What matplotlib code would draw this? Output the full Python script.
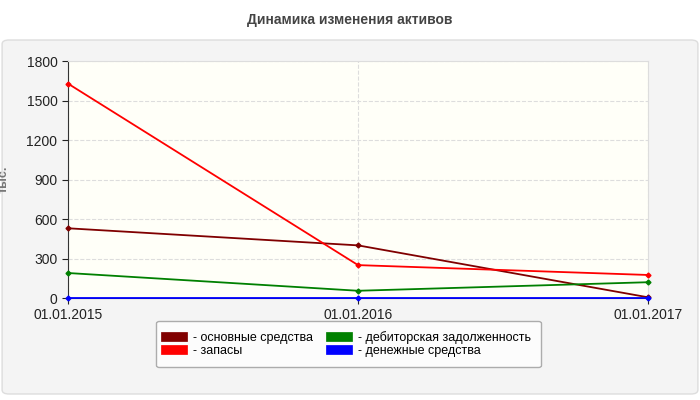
import matplotlib.pyplot as plt
from matplotlib.patches import FancyBboxPatch

plt.rcParams['font.family'] = ['Liberation Sans', 'DejaVu Sans']

dates = ['01.01.2015', '01.01.2016', '01.01.2017']
fixed_assets = [530, 400, 5]
stocks = [1630, 250, 175]
receivables = [190, 55, 120]
cash = [0, 0, 0]

names = ['- основные средства', '- запасы', '- дебиторская задолженность', '- денежные средства']
colors = ['#800000', '#ff0000', '#008000', '#0000ff']
series = [fixed_assets, stocks, receivables, cash]

fig = plt.figure(figsize=(7, 4), dpi=100)
fig.patch.set_facecolor('white')
# outer gray panel
panel = FancyBboxPatch((0.003, 0.015), 0.994, 0.885, boxstyle='round,pad=0,rounding_size=0.01',
                       transform=fig.transFigure, facecolor='#f4f4f4', edgecolor='#dddddd', lw=1, zorder=-10)
fig.patches.append(panel)
fig.text(0.5, 0.95, 'Динамика изменения активов', ha='center', va='center',
         fontsize=10, fontweight='bold', color='#444444')

ax = fig.add_axes([0.097, 0.255, 0.829, 0.592])
ax.set_zorder(1)
ax.set_facecolor('#fffff8')
x = range(len(dates))
for vals, c, n in zip(series, colors, names):
    ax.plot(x, vals, color=c, lw=1.3, marker='D', markersize=2.5, label=n, clip_on=False, zorder=3)

ax.set_xlim(0, 2)
ax.set_ylim(0, 1800)
ax.set_yticks(range(0, 1801, 300))
ax.set_xticks(list(x))
ax.set_xticklabels(dates)
ax.tick_params(labelsize=10, colors='#222222', length=4)
ax.grid(True, color='#dddddd', linestyle='--', lw=0.8)
ax.set_axisbelow(True)
for s in ['top', 'right']:
    ax.spines[s].set_color('#dddddd')
ax.spines['left'].set_color('#333333')
ax.spines['bottom'].set_color('#333333')
ax.set_ylabel('тыс.', color='#777777', fontsize=9, fontweight='bold', labelpad=12)

h, l = ax.get_legend_handles_labels()
leg = fig.legend(h, l, loc='center', bbox_to_anchor=(0.498, 0.14), ncol=2, fontsize=9,
                 frameon=True, handlelength=1.3, handleheight=0.6, columnspacing=1.5,
                 labelspacing=0.1, borderpad=0.8, fancybox=True)
leg.set_zorder(2)
leg.get_frame().set_edgecolor('#999999')
leg.get_frame().set_facecolor('white')
for lh in leg.legend_handles:
    lh.set_marker('')
    lh.set_linewidth(7)
fig.savefig('out.png', dpi=100)
